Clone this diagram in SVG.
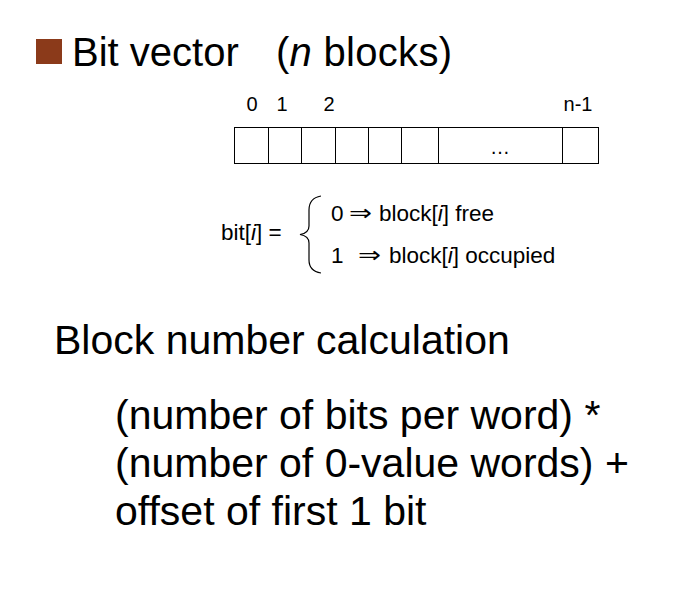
<svg xmlns="http://www.w3.org/2000/svg" width="680" height="610" viewBox="0 0 680 610">
<style>
text { font-family: "Liberation Sans", "DejaVu Sans", Arial, sans-serif; fill: #000; }
.title { font-size: 40px; }
.idx { font-size: 20px; text-anchor: middle; }
.def { font-size: 22.5px; }
.arr { font-family: "DejaVu Sans", sans-serif; font-size: 21px; }
.big { font-size: 41px; }
.cell { fill: #fff; stroke: #000; stroke-width: 1; }
.div { stroke: #000; stroke-width: 1; }
</style>
<rect width="680" height="610" fill="#fff"/>
<g id="title">
  <rect x="36" y="39" width="26" height="25" fill="#8b3a1a"/>
  <text class="title" x="72" y="66">Bit vector</text>
  <text class="title" x="276" y="66" textLength="176">(<tspan font-style="italic">n</tspan> blocks)</text>
</g>
<g id="indices">
  <text class="idx" x="252" y="111">0</text>
  <text class="idx" x="282" y="111">1</text>
  <text class="idx" x="329" y="111">2</text>
  <text class="idx" x="578" y="111">n-1</text>
</g>
<g id="bitvector">
  <rect class="cell" x="234.5" y="127.5" width="364" height="36"/>
  <line class="div" x1="268.5" y1="127.5" x2="268.5" y2="163.5"/>
  <line class="div" x1="301.5" y1="127.5" x2="301.5" y2="163.5"/>
  <line class="div" x1="335.5" y1="127.5" x2="335.5" y2="163.5"/>
  <line class="div" x1="368.5" y1="127.5" x2="368.5" y2="163.5"/>
  <line class="div" x1="401.5" y1="127.5" x2="401.5" y2="163.5"/>
  <line class="div" x1="438.5" y1="127.5" x2="438.5" y2="163.5"/>
  <line class="div" x1="562.5" y1="127.5" x2="562.5" y2="163.5"/>
  <text class="idx" x="500" y="154">…</text>
</g>
<g id="definition">
  <text class="def" x="221" y="240">bit[<tspan font-style="italic">i</tspan>] =</text>
  <path d="M 321 196 Q 309 198 309 210 L 309 226 Q 309 233 300 234.5 Q 309 236 309 243 L 309 260 Q 309 271 321 273" fill="none" stroke="#000" stroke-width="1.2"/>
  <text class="def" x="331" y="221">0</text>
  <text class="arr" x="349" y="220" textLength="23" lengthAdjust="spacingAndGlyphs">⇒</text>
  <text class="def" x="379" y="221">block[<tspan font-style="italic">i</tspan>] free</text>
  <text class="def" x="331" y="263">1</text>
  <text class="arr" x="358" y="262" textLength="23" lengthAdjust="spacingAndGlyphs">⇒</text>
  <text class="def" x="389" y="263">block[<tspan font-style="italic">i</tspan>] occupied</text>
</g>
<g id="calc">
  <text font-size="41" x="54" y="354">Block number calculation</text>
  <text class="big" x="115" y="429">(number of bits per word) *</text>
  <text class="big" x="115" y="477">(number of 0-value words) +</text>
  <text class="big" x="115" y="525">offset of first 1 bit</text>
</g>
</svg>
